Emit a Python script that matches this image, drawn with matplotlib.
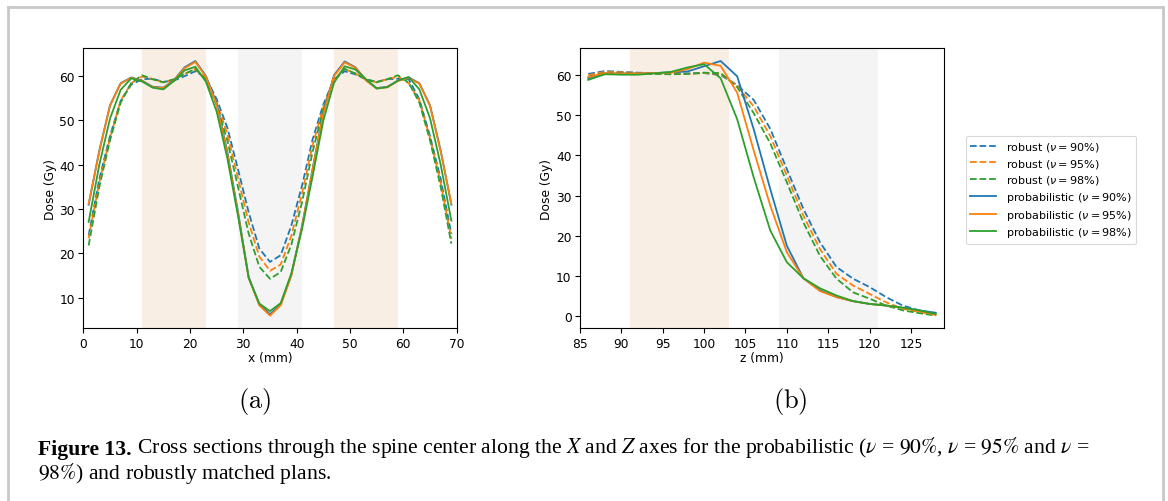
import matplotlib
matplotlib.use("Agg")
import matplotlib.pyplot as plt
import matplotlib.text as mtext
from matplotlib.lines import Line2D

# ---- Cross section along X ----
x_mm = list(range(1, 70, 2))

x_robust_90 = [24.1, 36.8, 46.5, 54.4, 58.1, 59.3, 59.4, 58.7, 59.0, 60.0, 61.1, 59.6,
               54.8, 48.4, 39.0, 29.3, 21.1, 18.1, 19.6, 26.3, 35.3, 45.8, 53.6, 59.3,
               61.1, 60.4, 59.3, 58.7, 59.3, 59.4, 59.3, 54.8, 46.5, 36.8, 24.4]
x_robust_95 = [23.4, 36.0, 46.0, 54.5, 58.4, 59.9, 59.3, 58.6, 59.2, 60.5, 61.6, 59.4,
               54.0, 47.0, 37.0, 27.0, 19.3, 16.1, 17.5, 24.0, 33.5, 44.5, 53.0, 59.3,
               61.6, 60.6, 59.2, 58.6, 59.3, 59.9, 58.4, 54.5, 46.0, 36.0, 23.3]
x_robust_98 = [21.8, 35.0, 45.5, 54.0, 58.5, 60.2, 59.3, 58.6, 59.3, 60.5, 61.6, 59.2,
               53.5, 45.5, 35.0, 24.5, 17.0, 14.3, 15.8, 22.0, 31.5, 43.0, 52.5, 59.0,
               61.6, 60.6, 59.2, 58.6, 59.3, 60.2, 58.5, 54.0, 45.5, 35.0, 22.2]
x_prob_90 = [31.0, 43.2, 53.4, 58.4, 59.7, 59.0, 57.6, 57.4, 59.1, 62.0, 63.4, 60.0,
             53.8, 43.0, 29.4, 14.7, 8.5, 6.3, 8.5, 15.2, 26.2, 39.2, 51.8, 60.2,
             63.3, 62.0, 59.1, 57.3, 57.6, 59.0, 59.7, 58.4, 53.4, 43.2, 31.0]
x_prob_95 = [31.2, 43.0, 53.3, 58.3, 59.6, 58.9, 57.5, 57.3, 59.0, 61.8, 63.2, 59.8,
             53.5, 42.5, 29.0, 14.5, 8.3, 6.0, 8.3, 15.0, 26.0, 39.0, 51.5, 60.0,
             63.1, 61.9, 59.0, 57.2, 57.5, 58.9, 59.6, 58.3, 53.3, 43.0, 31.2]
x_prob_98 = [27.1, 40.0, 50.4, 56.9, 59.5, 58.8, 57.4, 57.0, 58.9, 61.3, 62.1, 58.7,
             52.0, 41.5, 28.5, 14.5, 8.7, 7.0, 8.8, 15.5, 25.5, 37.5, 50.0, 58.5,
             62.2, 61.5, 59.3, 57.2, 57.5, 59.0, 59.8, 57.0, 50.5, 40.0, 27.4]

# ---- Cross section along Z ----
z_mm = list(range(86, 129, 2))

z_robust_90 = [60.3, 61.0, 60.8, 60.6, 60.5, 60.4, 60.4, 60.5, 60.0, 57.5, 53.8, 46.6,
               36.6, 26.7, 18.4, 12.2, 9.3, 7.2, 4.7, 2.6, 1.4, 0.5]
z_robust_95 = [60.0, 60.8, 60.7, 60.5, 60.4, 60.3, 60.3, 60.5, 60.3, 57.3, 52.2, 44.8,
               35.0, 25.0, 16.7, 10.5, 7.6, 5.5, 3.4, 1.8, 1.0, 0.3]
z_robust_98 = [59.6, 60.6, 60.5, 60.4, 60.3, 60.2, 60.3, 60.6, 60.5, 57.0, 50.5, 43.0,
               33.3, 23.3, 15.0, 9.3, 5.9, 4.3, 2.6, 1.4, 0.7, 0.1]
z_prob_90 = [59.2, 60.4, 60.4, 60.4, 60.5, 60.7, 60.9, 62.2, 63.5, 59.7, 46.5, 31.6,
             17.5, 9.4, 6.4, 4.7, 3.7, 3.0, 2.6, 2.0, 1.4, 0.8]
z_prob_95 = [59.5, 60.5, 60.4, 60.4, 60.5, 60.6, 61.5, 63.1, 62.3, 55.6, 41.2, 27.5,
             15.9, 9.4, 6.2, 4.7, 3.7, 3.0, 2.6, 2.0, 1.2, 0.3]
z_prob_98 = [58.8, 60.2, 60.1, 60.1, 60.4, 60.8, 61.9, 62.7, 59.2, 49.0, 34.5, 21.3,
             13.4, 9.4, 6.9, 5.1, 3.7, 3.0, 2.6, 2.1, 1.4, 0.5]

labels_robust = [r"robust ($\nu = 90\%$)", r"robust ($\nu = 95\%$)", r"robust ($\nu = 98\%$)"]
labels_prob = [r"probabilistic ($\nu = 90\%$)", r"probabilistic ($\nu = 95\%$)",
               r"probabilistic ($\nu = 98\%$)"]

# highlighted structures along each axis
x_target_bands = [(11, 23), (47, 59)]
x_oar_bands = [(29, 41)]
z_target_bands = [(91, 103)]
z_oar_bands = [(109, 121)]

W, H = 1168, 502
fig = plt.figure(figsize=(W / 100, H / 100), dpi=100)

def px_axes(l, r, t, b):
    return fig.add_axes([l / W, 1 - b / H, (r - l) / W, (b - t) / H])

ax1 = px_axes(83.3, 456.7, 49.3, 329.3)
ax2 = px_axes(580.0, 944.0, 49.3, 329.3)

target_color = "#f9eee4"
oar_color = "#f4f4f4"
colors = ["C0", "C1", "C2"]
lw = 1.3
fs_tick = 8.8
fs_label = 8.8

def draw(ax, xs, robust, prob, tbands, obands):
    for a, b in tbands:
        ax.axvspan(a, b, color=target_color, lw=0, zorder=0)
    for a, b in obands:
        ax.axvspan(a, b, color=oar_color, lw=0, zorder=0)
    handles = []
    for ys, c, lab in zip(robust, colors, labels_robust):
        h, = ax.plot(xs, ys, color=c, ls="--", lw=lw, label=lab)
        handles.append(h)
    for ys, c, lab in zip(prob, colors, labels_prob):
        h, = ax.plot(xs, ys, color=c, ls="-", lw=lw, label=lab)
        handles.append(h)
    ax.set_ylabel("Dose (Gy)", fontsize=fs_label, labelpad=2)
    ax.tick_params(labelsize=fs_tick, length=3.5, width=0.8, pad=2.5)
    return handles

draw(ax1, x_mm, [x_robust_90, x_robust_95, x_robust_98],
     [x_prob_90, x_prob_95, x_prob_98], x_target_bands, x_oar_bands)
handles = draw(ax2, z_mm, [z_robust_90, z_robust_95, z_robust_98],
               [z_prob_90, z_prob_95, z_prob_98], z_target_bands, z_oar_bands)

ax1.set_xlim(0, 70)
ax1.set_xlabel("x (mm)", fontsize=fs_label, labelpad=1)
ax1.set_yticks([10, 20, 30, 40, 50, 60])
ax2.set_xlim(85, 129)
ax2.set_xticks([85, 90, 95, 100, 105, 110, 115, 120, 125])
ax2.set_xlabel("z (mm)", fontsize=fs_label, labelpad=1)
ax2.set_yticks([0, 10, 20, 30, 40, 50, 60])

leg = fig.legend(handles=handles, loc="upper left",
                 bbox_to_anchor=(960 / W, 1 - 131 / H), fontsize=8,
                 labelspacing=0.33, handlelength=2.3, handletextpad=0.9,
                 borderpad=0.4, frameon=True)
leg.get_frame().set_edgecolor("#d0d0d0")
leg.get_frame().set_linewidth(0.8)

# subfigure tags
fig.text(255 / W, 1 - 402 / H, r"$\mathrm{(a)}$", fontsize=19, ha="center",
         va="center", math_fontfamily="cm")
fig.text(790 / W, 1 - 402 / H, r"$\mathrm{(b)}$", fontsize=19, ha="center",
         va="center", math_fontfamily="cm")

# caption
cap_font = dict(family="Liberation Serif", fontsize=15.6)
t1 = fig.text(38 / W, 1 - 455 / H, "Figure 13.", fontweight="bold", **cap_font)
fig.add_artist(mtext.Annotation(
    " Cross sections through the spine center along the $X$ and $Z$ axes "
    r"for the probabilistic ($\nu$ = $90\%$, $\nu$ = $95\%$ and $\nu$ =",
    xy=(1, 0), xycoords=t1, va="bottom", math_fontfamily="stix", **cap_font))
fig.text(38 / W, 1 - 479 / H, r"$98\%$) and robustly matched plans.",
         math_fontfamily="stix", **cap_font)

# outer frame
frame_kw = dict(color="#c8c8c8", lw=2, transform=fig.transFigure)
fig.add_artist(Line2D([8 / W, 8 / W], [0, 1 - 8 / H], **frame_kw))
fig.add_artist(Line2D([8 / W, 1163 / W], [1 - 8 / H, 1 - 8 / H], **frame_kw))
fig.add_artist(Line2D([1163 / W, 1163 / W], [0, 1 - 8 / H], **frame_kw))

fig.savefig("out.png", dpi=100)
